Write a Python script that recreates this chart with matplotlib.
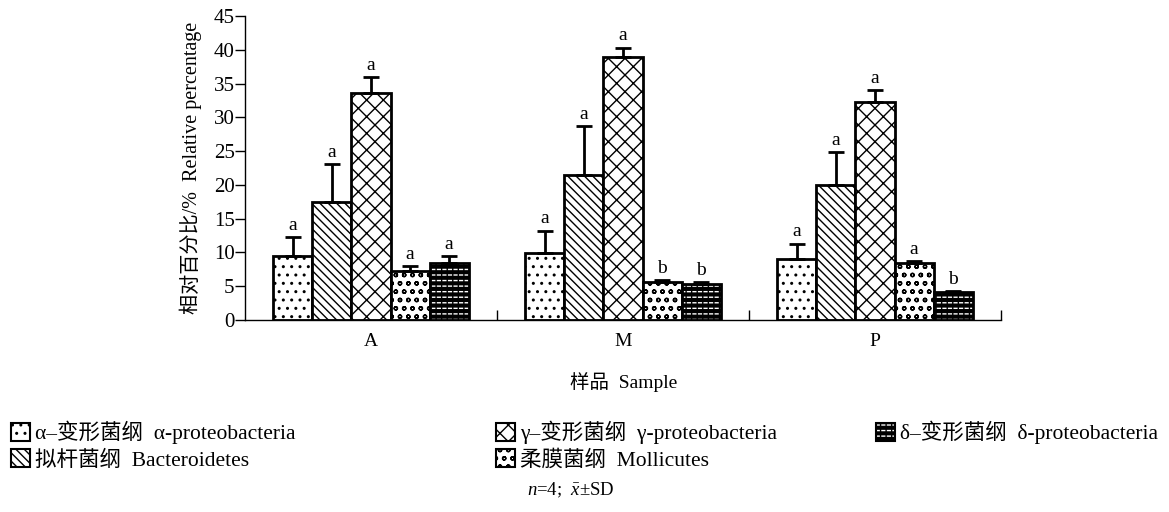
import numpy as np
import matplotlib
matplotlib.use("Agg")
import matplotlib.pyplot as plt
from matplotlib.patches import Patch
from matplotlib.legend_handler import HandlerTuple

plt.rcParams["font.family"] = ["Liberation Serif", "Noto Sans CJK SC"]
plt.rcParams["mathtext.fontset"] = "custom"
plt.rcParams["mathtext.rm"] = "Liberation Serif"
plt.rcParams["mathtext.it"] = "Liberation Serif:italic"
plt.rcParams["hatch.linewidth"] = 1.0

# data
samples = ["A", "M", "P"]
taxa = ["α–变形菌纲  α-proteobacteria", "拟杆菌纲  Bacteroidetes",
        "γ–变形菌纲  γ-proteobacteria", "柔膜菌纲  Mollicutes",
        "δ–变形菌纲  δ-proteobacteria"]
means = {
    "A": [9.4, 17.4, 33.6, 7.3, 8.4],
    "M": [9.9, 21.4, 38.9, 5.6, 5.3],
    "P": [9.1, 20.0, 32.2, 8.4, 4.1],
}
sds = {
    "A": [2.9, 5.7, 2.3, 0.7, 1.0],
    "M": [3.3, 7.3, 1.4, 0.3, 0.3],
    "P": [2.2, 4.8, 1.8, 0.3, 0.2],
}
letters = {
    "A": ["a", "a", "a", "a", "a"],
    "M": ["a", "a", "a", "b", "b"],
    "P": ["a", "a", "a", "a", "b"],
}

hatches = ["..", "\\\\\\\\", "xx", "oo", None]

fig = plt.figure(figsize=(11.69, 5.12), dpi=100)
ax = fig.add_axes([245 / 1169, 1 - 320 / 512, (1001 - 245) / 1169, (320 - 16) / 512])

x = np.arange(len(samples))
w = 0.155
for i in range(len(taxa)):
    vals = [means[s][i] for s in samples]
    err = [sds[s][i] for s in samples]
    pos = x + (i - 2) * w
    if hatches[i] is None:
        # black bar with white dashes
        ax.bar(pos, vals, w, color="black", edgecolor="white", hatch="---",
               linewidth=0, zorder=2)
        ax.bar(pos, vals, w, facecolor="none", edgecolor="black", hatch="|||",
               linewidth=2, zorder=3)
    else:
        ax.bar(pos, vals, w, color="white", edgecolor="black", hatch=hatches[i],
               linewidth=2, zorder=2)
    ax.errorbar(pos, vals, yerr=[np.zeros(len(vals)), err], fmt="none",
                ecolor="black", elinewidth=2, capsize=6, capthick=2, zorder=4)
    for p, v, e, s in zip(pos, vals, err, samples):
        ax.text(p, v + e + 0.5, letters[s][i], ha="center", va="bottom", fontsize=14)

ax.set_xlim(-0.5, 2.5)
ax.set_ylim(0, 45)
ax.set_yticks(range(0, 46, 5))
ax.set_xticks(x)
ax.set_xticklabels(samples)
ax.set_xticks([0.5, 1.5, 2.5], minor=True)
ax.tick_params(axis="x", which="major", length=0, labelsize=14, pad=9)
ax.tick_params(axis="x", which="minor", direction="in", length=7, width=1)
ax.tick_params(axis="y", direction="out", length=7, width=1, labelsize=15, pad=0.5)
for sp in ["top", "right"]:
    ax.spines[sp].set_visible(False)
ax.spines["left"].set_linewidth(1)
ax.spines["bottom"].set_linewidth(1)
ax.set_ylabel("相对百分比/%  Relative percentage", fontsize=14.5, labelpad=8)

fig.text(624 / 1169, 1 - 382 / 512, "样品  Sample", ha="center", va="center", fontsize=14)

# legend handles
handles = []
for i in range(len(taxa)):
    if hatches[i] is None:
        h1 = Patch(facecolor="black", edgecolor="white", hatch="---", linewidth=0)
        h2 = Patch(facecolor="none", edgecolor="black", hatch="|||", linewidth=1.5)
        handles.append((h1, h2))
    else:
        handles.append(Patch(facecolor="white", edgecolor="black", hatch=hatches[i],
                             linewidth=1.5))

cols = [([0, 1], 2 / 1169), ([2, 3], 487 / 1169), ([4], 867 / 1169)]
for idx, xpos in cols:
    leg = fig.legend([handles[k] for k in idx], [taxa[k] for k in idx],
                     loc="upper left", bbox_to_anchor=(xpos, 1 - 412 / 512),
                     frameon=False, fontsize=15.5, handlelength=0.9, handleheight=0.9,
                     handletextpad=0.25, labelspacing=0.25, borderaxespad=0,
                     handler_map={tuple: HandlerTuple(ndivide=1, pad=0)})

fig.text(571 / 1169, 1 - 490 / 512, r"$n$=4;  $\bar{x}$±SD", ha="center", va="center",
         fontsize=13.5)

fig.savefig("out.png", dpi=100)
